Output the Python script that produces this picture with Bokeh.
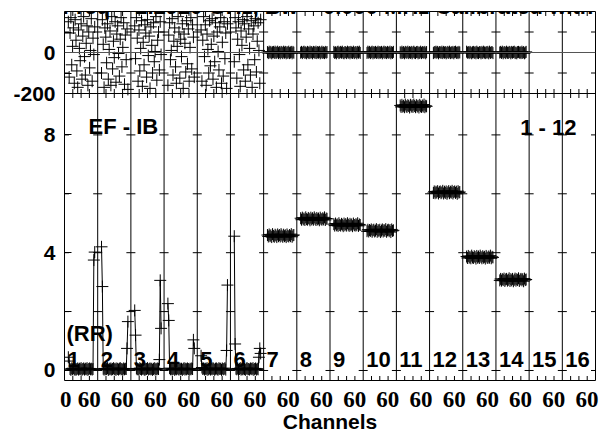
import numpy as np
from bokeh.plotting import figure
from bokeh.models import (Range1d, LinearAxis, FixedTicker, CustomJSTickFormatter,
                          Span, Label)
from bokeh.core.properties import value
from bokeh.embed import file_html
from bokeh.resources import INLINE

# ---------------- texts ----------------
TITLE = "Freq = 2.2920 GHz, Bw = 0.000 MHz  Calibrated with CL # 1"
BASELINE_TEXT = "EF - IB"
STOKES_TEXT = "(RR)"
IF_SPAN_TEXT = "1 - 12"
X_LABEL = "Channels"

# ---------------- axes / categories ----------------
N_IF = 16
IF_NUMBERS = list(range(1, N_IF + 1))
CHANNELS = list(range(1, 64, 2))          # sampled channels of each IF
CHAN_PER_PANEL = 78                        # channel units spanned by one IF panel
CHAN_AT_PANEL_EDGE = -8                    # channel value at the left edge of a panel
X_TICK_LABELS = ["0", "60"]
AMP_TICKS = [0, 4, 8]
AMP_MINOR = [2, 6]
PHASE_TICKS = [-200, 0]
PHASE_MINOR = [-100, 100]
PHASE_LIMITS = [-200, 200]

# ---------------- phase (degrees) ----------------
PHASE_IF1 = [150, -120, 95, 170, -60, 30, 120, -150, 160, 60, -90, -170, 110, 20, -40, 140,
             -130, 80, 175, -20, -110, 45, 130, -160, 100, -75, 10, 165, -140, 70, -10, 125]
PHASE_IF2 = [-100, 160, 40, -170, 120, 75, -50, 140, -130, 15, 105, -160, 175, -80, 55, -25,
             150, -145, 90, 130, -5, -115, 65, 170, -70, 25, 145, -155, 85, -35, 115, -180]
PHASE_IF3 = [130, -30, 170, 70, -140, 110, -90, 20, 155, -165, 50, -60, 135, 95, -120, 160,
             -15, 80, -175, 125, 35, -100, 145, -45, 5, 175, -135, 60, 100, -85, 150, -10]
PHASE_IF4 = [-160, 85, 145, -35, 10, 165, -110, 55, 120, -70, -150, 30, 175, 100, -125, 65,
             -20, 140, -175, 90, 45, -95, 155, -55, 115, -140, 25, 170, -80, 135, 75, -120]
PHASE_IF5 = [110, -140, 60, 175, -20, 135, -160, 90, 15, -100, 155, -65, 40, 165, -130, 80,
             -45, 145, -170, 100, 5, -85, 125, 170, -150, 50, -115, 150, -30, 95, -175, 140]
PHASE_IF6 = [-45, 170, 120, -125, 65, 150, -10, -165, 105, 35, 160, -85, 140, -140, 75, 175,
             -60, 115, 20, -110, 155, -170, 90, 130, -35, 165, -95, 55, 145, 10, -150, 160]
PHASE_IF7 = [2, -3, 4, -1, 3, -4, 1, 3, -2, 4, -2, 0, 4, -3, 2, -4, 3, 1, -3, 4, -1, 3, -4, 2,
             -2, 4, -3, 0, 3, -4, 3, -1]
PHASE_IF8 = [-1, 3, -3, 2, 4, -2, 1, -4, 3, 0, -3, 4, -1, 2, -4, 3, 1, -2, 4, -3, 2, -1, 3, -4,
             0, 4, -2, 1, -3, 3, -1, 2]
PHASE_IF9 = [3, -2, 1, -4, 2, 4, -3, 0, 3, -1, 4, -2, -4, 2, 1, -3, 4, -1, 2, -4, 3, 0, -2, 4,
             -3, 1, 2, -4, 3, -1, 4, -2]
PHASE_IF10 = [-2, 4, -1, 3, -3, 1, 4, -4, 2, -1, 3, -2, 0, 4, -3, 2, -1, 3, -4, 1, 4, -2, 2, -3,
              3, -1, 0, 4, -4, 2, -2, 3]
PHASE_IF11 = [1, -3, 4, -2, 2, -4, 3, -1, 0, 4, -3, 2, -2, 3, -4, 1, 4, -1, -3, 2, 3, -4, 1, -2,
              4, -3, 2, 0, -1, 3, -4, 2]
PHASE_IF12 = [-3, 2, 0, 4, -1, 3, -4, 2, 1, -2, 4, -3, 3, -1, 2, -4, 0, 3, -2, 4, -3, 1, -1, 3,
              -4, 2, 4, -2, 1, -3, 3, 0]
PHASE_IF13 = [4, -1, 2, -3, 3, 0, -4, 1, 3, -2, 2, -4, 4, -1, -3, 2, 1, -4, 3, -2, 4, 0, -3, 2,
              -1, 3, -4, 4, -2, 1, 2, -3]
PHASE_IF14 = [0, 3, -2, 4, -4, 1, 2, -3, 4, -1, -2, 3, 1, -4, 3, -1, 2, 4, -3, 0, -4, 2, 3, -1,
              1, -3, 4, -2, 2, -4, 0, 3]

# ---------------- amplitude ----------------
AMP_IF1 = [0.45, 0.32, 0.05, 0.02, 0.07, 0.04, 0.08, 0.03, 0.06, 0.02, 0.05, 0.07, 0.03, 0.06,
           0.04, 0.08, 0.02, 0.05, 0.07, 0.03, 0.06, 0.04, 0.08, 0.02, 0.05, 0.07, 0.04, 0.06,
           0.03, 0.05, 3.75, 4.02]
AMP_IF2 = [4.20, 2.85, 0.06, 0.03, 0.07, 0.04, 0.05, 0.08, 0.02, 0.06, 0.04, 0.07, 0.03, 0.05,
           0.08, 0.04, 0.06, 0.02, 0.07, 0.05, 0.03, 0.06, 0.08, 0.04, 0.05, 0.02, 0.07, 0.04,
           0.06, 0.05, 0.75, 1.66]
AMP_IF3 = [2.04, 1.20, 0.07, 0.04, 0.05, 0.02, 0.08, 0.05, 0.03, 0.06, 0.07, 0.04, 0.02, 0.06,
           0.05, 0.08, 0.03, 0.05, 0.07, 0.04, 0.06, 0.02, 0.05, 0.08, 0.03, 0.06, 0.04, 0.07,
           0.05, 0.37, 3.06, 1.43]
AMP_IF4 = [2.27, 1.70, 0.08, 0.04, 0.06, 0.03, 0.05, 0.07, 0.02, 0.06, 0.04, 0.08, 0.05, 0.03,
           0.07, 0.04, 0.06, 0.02, 0.05, 0.08, 0.03, 0.06, 0.04, 0.07, 0.05, 0.02, 0.06, 0.04,
           0.07, 0.05, 1.04, 0.75]
AMP_IF5 = [0.50, 0.10, 0.05, 0.07, 0.03, 0.06, 0.04, 0.08, 0.02, 0.05, 0.07, 0.03, 0.06, 0.04,
           0.08, 0.05, 0.02, 0.06, 0.07, 0.04, 0.03, 0.08, 0.05, 0.06, 0.02, 0.07, 0.04, 0.05,
           0.08, 0.03, 0.68, 2.90]
AMP_IF6 = [4.56, 0.90, 0.06, 0.04, 0.07, 0.02, 0.05, 0.08, 0.03, 0.06, 0.04, 0.07, 0.05, 0.02,
           0.06, 0.08, 0.04, 0.05, 0.03, 0.07, 0.06, 0.04, 0.08, 0.02, 0.05, 0.07, 0.03, 0.06,
           0.04, 0.45, 0.75, 0.58]
AMP_IF7 = [4.60, 4.55, 4.62, 4.56, 4.59, 4.53, 4.63, 4.57, 4.54, 4.61, 4.58, 4.53, 4.62, 4.56,
           4.60, 4.55, 4.63, 4.58, 4.54, 4.61, 4.56, 4.59, 4.53, 4.62, 4.57, 4.55, 4.60, 4.56,
           4.63, 4.54, 4.59, 4.60]
AMP_IF8 = [5.17, 5.12, 5.19, 5.13, 5.16, 5.11, 5.20, 5.14, 5.12, 5.18, 5.15, 5.10, 5.19, 5.13,
           5.17, 5.12, 5.20, 5.15, 5.11, 5.18, 5.13, 5.16, 5.10, 5.19, 5.14, 5.12, 5.17, 5.13,
           5.20, 5.11, 5.16, 5.15]
AMP_IF9 = [4.97, 4.92, 4.99, 4.93, 4.96, 4.91, 5.00, 4.94, 4.92, 4.98, 4.95, 4.90, 4.99, 4.93,
           4.97, 4.92, 5.00, 4.95, 4.91, 4.98, 4.93, 4.96, 4.90, 4.99, 4.94, 4.92, 4.97, 4.93,
           5.00, 4.91, 4.96, 4.94]
AMP_IF10 = [4.73, 4.78, 4.72, 4.77, 4.74, 4.79, 4.71, 4.76, 4.78, 4.72, 4.75, 4.80, 4.71, 4.77,
            4.73, 4.78, 4.70, 4.75, 4.79, 4.72, 4.77, 4.74, 4.80, 4.71, 4.76, 4.78, 4.73, 4.77,
            4.70, 4.79, 4.74, 4.76]
AMP_IF11 = [9.00, 8.95, 9.02, 8.96, 8.99, 8.94, 9.03, 8.97, 8.95, 9.01, 8.98, 8.93, 9.02, 8.96,
            9.00, 8.95, 9.03, 8.98, 8.94, 9.01, 8.96, 8.99, 8.93, 9.02, 8.97, 8.95, 9.00, 8.96,
            9.03, 8.94, 8.99, 8.97]
AMP_IF12 = [6.03, 6.08, 6.02, 6.07, 6.04, 6.09, 6.01, 6.06, 6.08, 6.02, 6.05, 6.10, 6.01, 6.07,
            6.03, 6.08, 6.00, 6.05, 6.09, 6.02, 6.07, 6.04, 6.10, 6.01, 6.06, 6.08, 6.03, 6.07,
            6.00, 6.09, 6.04, 6.06]
AMP_IF13 = [3.87, 3.82, 3.89, 3.83, 3.86, 3.81, 3.90, 3.84, 3.82, 3.88, 3.85, 3.80, 3.89, 3.83,
            3.87, 3.82, 3.90, 3.85, 3.81, 3.88, 3.83, 3.86, 3.80, 3.89, 3.84, 3.82, 3.87, 3.83,
            3.90, 3.81, 3.86, 3.84]
AMP_IF14 = [3.06, 3.11, 3.05, 3.10, 3.07, 3.12, 3.04, 3.09, 3.11, 3.05, 3.08, 3.13, 3.04, 3.10,
            3.06, 3.11, 3.03, 3.08, 3.12, 3.05, 3.10, 3.07, 3.13, 3.04, 3.09, 3.11, 3.06, 3.10,
            3.03, 3.12, 3.07, 3.09]

PHASE = {1: PHASE_IF1, 2: PHASE_IF2, 3: PHASE_IF3, 4: PHASE_IF4, 5: PHASE_IF5, 6: PHASE_IF6,
         7: PHASE_IF7, 8: PHASE_IF8, 9: PHASE_IF9, 10: PHASE_IF10, 11: PHASE_IF11,
         12: PHASE_IF12, 13: PHASE_IF13, 14: PHASE_IF14}
AMP = {1: AMP_IF1, 2: AMP_IF2, 3: AMP_IF3, 4: AMP_IF4, 5: AMP_IF5, 6: AMP_IF6, 7: AMP_IF7,
       8: AMP_IF8, 9: AMP_IF9, 10: AMP_IF10, 11: AMP_IF11, 12: AMP_IF12, 13: AMP_IF13,
       14: AMP_IF14}

# ---------------- style ----------------
FONT = "Liberation Sans"
NARROW = "Liberation Sans Narrow"
A0, A1 = -0.34, 12.19          # amplitude range of the whole frame
P0, P1 = -1600.0, 200.0        # phase range of the whole frame (phase panel on top)


def xpos(if_no, ch):
    return (if_no - 1) * CHAN_PER_PANEL + ch


def amp_of_phase(ph):
    return A0 + (ph - P0) / (P1 - P0) * (A1 - A0)


X0 = CHAN_AT_PANEL_EDGE
X1 = N_IF * CHAN_PER_PANEL + CHAN_AT_PANEL_EDGE

p = figure(width=607, height=435, x_range=Range1d(X0, X1), y_range=Range1d(A0, A1),
           x_axis_location=None, y_axis_location=None,
           output_backend="svg", toolbar_location=None,
           min_border_left=64, min_border_right=12, min_border_top=11, min_border_bottom=55,
           background_fill_color="white", border_fill_color="white",
           outline_line_color="black", outline_line_width=1)
p.xgrid.visible = False
p.ygrid.visible = False
p.extra_y_ranges = {"phase": Range1d(P0, P1)}

# panel boundaries and reference lines
bounds = [X0 + k * CHAN_PER_PANEL for k in range(0, N_IF + 1)]
for b in bounds[1:-1]:
    p.add_layout(Span(location=b, dimension="height", line_color="black", line_width=1))
p.add_layout(Span(location=PHASE_LIMITS[0], dimension="width", y_range_name="phase",
                  line_color="black", line_width=1))
p.add_layout(Span(location=0, dimension="width", y_range_name="phase",
                  line_color="#555555", line_width=1))

# tick crosses on the panel boundaries
bx = [b for b in bounds for _ in AMP_TICKS + AMP_MINOR]
by = [v for _ in bounds for v in AMP_TICKS + AMP_MINOR]
p.scatter(bx, by, marker="dash", size=9, line_color="black", line_width=1)
px_ = [b for b in bounds for _ in PHASE_MINOR]
py_ = [v for _ in bounds for v in PHASE_MINOR]
p.scatter(px_, py_, marker="dash", size=9, line_color="black", line_width=1,
          y_range_name="phase")

# quarter-panel ticks on top / middle / bottom edges
qx = [b + CHAN_PER_PANEL * f for b in bounds[:-1] for f in (0.25, 0.5, 0.75)]
p.scatter(qx, [A0] * len(qx), marker="dash", angle=np.pi / 2, size=9,
          line_color="black", line_width=1)
p.scatter(qx, [PHASE_LIMITS[1]] * len(qx), marker="dash", angle=np.pi / 2, size=9,
          line_color="black", line_width=1, y_range_name="phase")
p.scatter(qx, [PHASE_LIMITS[0]] * len(qx), marker="dash", angle=np.pi / 2, size=9,
          line_color="black", line_width=1, y_range_name="phase")

# phase points
for i, ph in PHASE.items():
    p.scatter([xpos(i, c) for c in CHANNELS], ph, marker="cross", size=12,
              line_color="black", line_width=1, y_range_name="phase")

# amplitude lines + points
for i, am in AMP.items():
    xs = [xpos(i, c) for c in CHANNELS]
    p.line(xs, am, line_color="black", line_width=1)
    p.scatter(xs, am, marker="cross", size=12, line_color="black", line_width=1)

# texts in the amplitude panel
TXT = dict(text_font=value(FONT), text_font_style="bold", text_font_size="22px",
           text_color="black", text_baseline="alphabetic", text_align="left")
p.text(x=[xpos(i, CHAN_AT_PANEL_EDGE + 7) for i in IF_NUMBERS], y=[0.39] * N_IF,
       text=[str(i) for i in IF_NUMBERS], **TXT)
p.text(x=[xpos(1, -3.3)], y=[1.24], text=[STOKES_TEXT], **TXT)
p.text(x=[xpos(1, 48.4)], y=[8.29], text=[BASELINE_TEXT], **TXT)
p.text(x=[xpos(14, 49)], y=[8.25], text=[IF_SPAN_TEXT], **TXT)

p.add_layout(Label(x=xpos(1, -12.7), y=226, y_range_name="phase", text=TITLE,
                   text_font=FONT, text_font_style="bold", text_font_size="22px",
                   text_color="black", text_baseline="alphabetic", text_align="left"))

# left axis: amplitude ticks + phase ticks
ytick = FixedTicker(ticks=AMP_TICKS + [amp_of_phase(v) for v in PHASE_TICKS],
                    minor_ticks=AMP_MINOR + [amp_of_phase(v) for v in PHASE_MINOR])
yfmt = CustomJSTickFormatter(
    args=dict(a0=A0, a1=A1, p0=P0, p1=P1, split=amp_of_phase(PHASE_LIMITS[0]) - 0.01),
    code="""
    if (tick > split) { return String(Math.round(p0 + (tick - a0) / (a1 - a0) * (p1 - p0))); }
    return String(Math.round(tick));
    """)
yaxis = LinearAxis(ticker=ytick, formatter=yfmt)
yaxis.axis_line_color = None
yaxis.major_tick_in = 7
yaxis.major_tick_out = 0
yaxis.minor_tick_in = 7
yaxis.minor_tick_out = 0
yaxis.major_tick_line_color = "black"
yaxis.minor_tick_line_color = "black"
yaxis.major_label_text_font = FONT
yaxis.major_label_text_font_style = "bold"
yaxis.major_label_text_font_size = "21px"
yaxis.major_label_text_color = "black"
yaxis.major_label_standoff = 9
p.add_layout(yaxis, "left")

# bottom axis: channel labels ("0" of the first IF, then "60" of every IF)
xt = [xpos(1, 0) - 5] + [xpos(i, 60) - 10 for i in IF_NUMBERS]
xl = [X_TICK_LABELS[0]] + [X_TICK_LABELS[1]] * N_IF
xfmt = CustomJSTickFormatter(args=dict(pos=xt, lab=xl), code="""
    let best = 0;
    for (let i = 0; i < pos.length; i++) {
        if (Math.abs(pos[i] - tick) < Math.abs(pos[best] - tick)) { best = i; }
    }
    return lab[best];
""")
xaxis = LinearAxis(ticker=FixedTicker(ticks=xt, minor_ticks=[]),
                   formatter=xfmt, axis_label=X_LABEL)
xaxis.axis_line_color = None
xaxis.major_tick_in = 0
xaxis.major_tick_out = 0
xaxis.minor_tick_in = 0
xaxis.minor_tick_out = 0
xaxis.major_label_text_font = NARROW
xaxis.major_label_text_font_style = "bold"
xaxis.major_label_text_font_size = "23px"
xaxis.major_label_text_color = "black"
xaxis.major_label_standoff = 11
xaxis.axis_label_text_font = FONT
xaxis.axis_label_text_font_style = "bold"
xaxis.axis_label_text_font_size = "21px"
xaxis.axis_label_text_color = "black"
xaxis.axis_label_standoff = 0
p.add_layout(xaxis, "below")

open("out.html", "w").write(file_html(p, INLINE))
